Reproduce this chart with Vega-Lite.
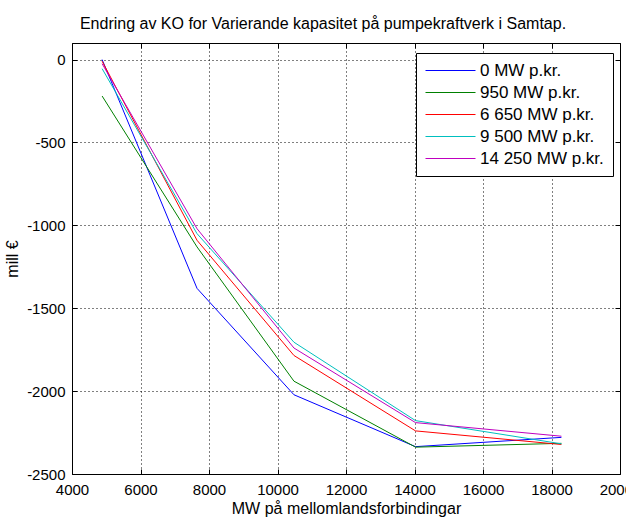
{
  "$schema": "https://vega.github.io/schema/vega-lite/v6.json",
  "width": 548,
  "height": 431,
  "autosize": {"type": "none"},
  "padding": {"left": 72, "top": 43, "right": 6, "bottom": 46},
  "background": "white",
  "title": {"text": "Endring av KO for Varierande kapasitet på pumpekraftverk i Samtap.", "font": "Liberation Sans", "fontSize": 16, "fontWeight": "normal", "color": "black", "anchor": "middle", "offset": 11, "dx": -23},
  "config": {
    "view": {"stroke": "black", "strokeWidth": 1},
    "axis": {"domain": false, "labelFont": "Liberation Sans", "labelFontSize": 15, "labelColor": "black", "titleFont": "Liberation Sans", "titleFontSize": 16, "titleFontWeight": "normal", "titleColor": "black", "tickColor": "black", "tickSize": -5, "gridColor": "black", "gridDash": [1, 3], "gridOpacity": 1, "gridWidth": 1}
  },
  "data": {"values": [
    {"x": 4880, "y": 0, "s": "0 MW p.kr."},
    {"x": 7650, "y": -1380, "s": "0 MW p.kr."},
    {"x": 10480, "y": -2022, "s": "0 MW p.kr."},
    {"x": 14030, "y": -2335, "s": "0 MW p.kr."},
    {"x": 18290, "y": -2279, "s": "0 MW p.kr."},
    {"x": 4880, "y": -220, "s": "950 MW p.kr."},
    {"x": 7650, "y": -1130, "s": "950 MW p.kr."},
    {"x": 10480, "y": -1940, "s": "950 MW p.kr."},
    {"x": 14030, "y": -2338, "s": "950 MW p.kr."},
    {"x": 18290, "y": -2315, "s": "950 MW p.kr."},
    {"x": 4880, "y": -10, "s": "6 650 MW p.kr."},
    {"x": 7650, "y": -1090, "s": "6 650 MW p.kr."},
    {"x": 10480, "y": -1785, "s": "6 650 MW p.kr."},
    {"x": 14030, "y": -2240, "s": "6 650 MW p.kr."},
    {"x": 18290, "y": -2322, "s": "6 650 MW p.kr."},
    {"x": 4880, "y": -55, "s": "9 500 MW p.kr."},
    {"x": 7650, "y": -1050, "s": "9 500 MW p.kr."},
    {"x": 10480, "y": -1705, "s": "9 500 MW p.kr."},
    {"x": 14030, "y": -2178, "s": "9 500 MW p.kr."},
    {"x": 18290, "y": -2318, "s": "9 500 MW p.kr."},
    {"x": 4880, "y": -25, "s": "14 250 MW p.kr."},
    {"x": 7650, "y": -1020, "s": "14 250 MW p.kr."},
    {"x": 10480, "y": -1740, "s": "14 250 MW p.kr."},
    {"x": 14030, "y": -2190, "s": "14 250 MW p.kr."},
    {"x": 18290, "y": -2272, "s": "14 250 MW p.kr."}
  ]},
  "layer": [
    {
      "mark": {"type": "line", "strokeWidth": 1},
      "encoding": {
        "x": {"field": "x", "type": "quantitative", "scale": {"domain": [4000, 20000], "nice": false, "zero": false},
              "axis": {"values": [4000, 6000, 8000, 10000, 12000, 14000, 16000, 18000, 20000], "labelExpr": "'' + datum.value", "title": "MW på mellomlandsforbindingar", "labelPadding": 13, "titlePadding": 3, "grid": true, "labelFlush": false}},
        "y": {"field": "y", "type": "quantitative", "scale": {"domain": [-2500, 100], "nice": false, "zero": false},
              "axis": {"values": [-2500, -2000, -1500, -1000, -500, 0], "labelExpr": "'' + datum.value", "title": "mill €", "labelPadding": 12, "titlePadding": 6, "grid": true}},
        "color": {"field": "s", "type": "nominal",
                  "scale": {"domain": ["0 MW p.kr.", "950 MW p.kr.", "6 650 MW p.kr.", "9 500 MW p.kr.", "14 250 MW p.kr."], "range": ["#0000ff", "#008000", "#ff0000", "#00bfbf", "#bf00bf"]},
                  "legend": {"title": null, "orient": "none", "legendX": 344, "legendY": 10, "symbolType": "M-5,0H5", "symbolSize": 100, "symbolStrokeWidth": 1, "symbolOffset": 17, "labelFont": "Liberation Sans", "labelFontSize": 17, "labelColor": "black", "labelOffset": 21, "strokeColor": "black", "fillColor": "white", "padding": 9, "rowPadding": 4,
                             "encode": {"symbols": {"update": {"stroke": {"scale": "color", "field": "value"}, "fill": {"value": "transparent"}, "strokeWidth": {"value": 1}, "opacity": {"value": 1}, "strokeOpacity": {"value": 1}}}}}}
      }
    },
    {
      "mark": {"type": "line", "strokeOpacity": 0},
      "encoding": {
        "x": {"field": "x", "type": "quantitative", "scale": {"domain": [4000, 20000], "nice": false, "zero": false},
              "axis": {"orient": "top", "values": [4000, 6000, 8000, 10000, 12000, 14000, 16000, 18000, 20000], "labels": false, "title": null, "grid": false}},
        "y": {"field": "y", "type": "quantitative", "scale": {"domain": [-2500, 100], "nice": false, "zero": false},
              "axis": {"orient": "right", "values": [-2500, -2000, -1500, -1000, -500, 0], "labels": false, "title": null, "grid": false}},
        "detail": {"field": "s"}
      }
    }
  ],
  "resolve": {"axis": {"x": "independent", "y": "independent"}}
}
